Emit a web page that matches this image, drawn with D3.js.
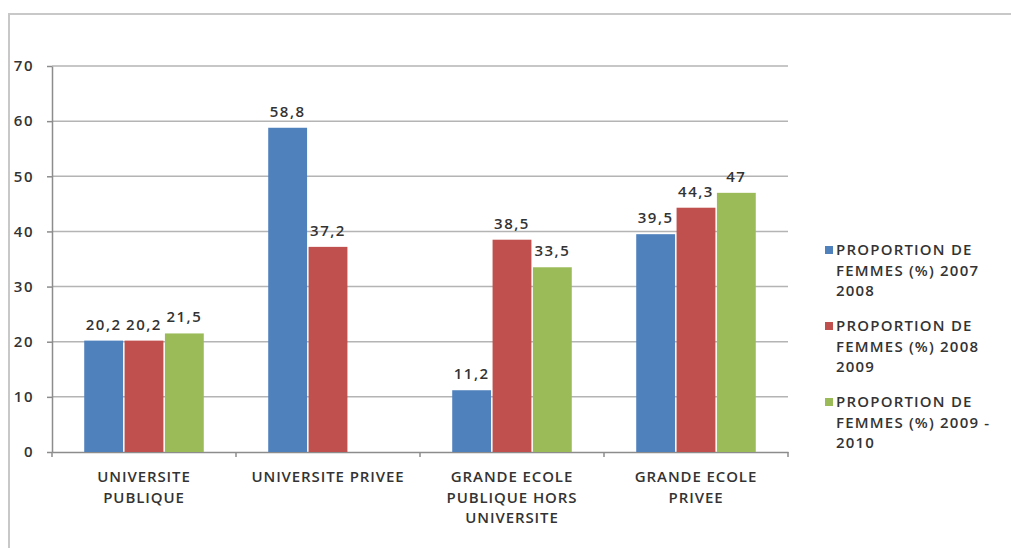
<!DOCTYPE html>
<html lang="fr">
<head>
<meta charset="UTF-8">
<title>Proportion de femmes</title>
<script src="https://d3js.org/d3.v7.min.js"></script>
<style>
  body { margin: 0; background: #fff; }
  svg text { font-family: "Open Sans", Calibri, sans-serif; fill: #333; font-weight: 600; }
  .grid line { stroke: #b4b4b4; stroke-width: 1.5; }
  .axis path, .axis line { stroke: #8c8c8c; stroke-width: 1.5; fill: none; }
</style>
</head>
<body>
<div id="chart"></div>
<script>
// data
var categories = ["UNIVERSITE PUBLIQUE", "UNIVERSITE PRIVEE", "GRANDE ECOLE PUBLIQUE HORS UNIVERSITE", "GRANDE ECOLE PRIVEE"];
var categoryLines = [["UNIVERSITE", "PUBLIQUE"], ["UNIVERSITE PRIVEE"], ["GRANDE ECOLE", "PUBLIQUE HORS", "UNIVERSITE"], ["GRANDE ECOLE", "PRIVEE"]];
var series = ["2007-2008", "2008-2009", "2009-2010"];
var seriesLabels = [
  ["PROPORTION DE", "FEMMES (%) 2007", "2008"],
  ["PROPORTION DE", "FEMMES (%) 2008", "2009"],
  ["PROPORTION DE", "FEMMES (%) 2009 -", "2010"]
];
var values2007 = [20.2, 58.8, 11.2, 39.5];
var values2008 = [20.2, 37.2, 38.5, 44.3];
var values2009 = [21.5, null, 33.5, 47];
var valueLabels = [
  ["20,2", "58,8", "11,2", "39,5"],
  ["20,2", "37,2", "38,5", "44,3"],
  ["21,5", "", "33,5", "47"]
];
var yTicks = [0, 10, 20, 30, 40, 50, 60, 70];
var colors = ["#4f81bd", "#c0504d", "#9bbb59"];

var allValues = [values2007, values2008, values2009];

var W = 1011, H = 548;
var margin = { top: 66, left: 52, right: 223, bottom: 96 };

var svg = d3.select("#chart").append("svg")
  .attr("width", W).attr("height", H);

// outer frame (top and left edges visible)
svg.append("path")
  .attr("d", "M8,14H" + W + "M9,14V" + H)
  .attr("stroke", "#c8c8c8").attr("stroke-width", 2).attr("fill", "none");

var x0 = d3.scaleBand().domain(categories).range([margin.left, W - margin.right]);
var x1 = d3.scaleBand().domain(series).range([0, x0.bandwidth()]).paddingOuter(0.78);
var y = d3.scaleLinear().domain([0, 70]).range([H - margin.bottom, margin.top]);

// gridlines
svg.append("g").attr("class", "grid")
  .selectAll("line").data(yTicks.slice(1)).enter().append("line")
  .attr("x1", margin.left).attr("x2", W - margin.right)
  .attr("y1", function (d) { return y(d); }).attr("y2", function (d) { return y(d); });

// y axis
var yAxis = svg.append("g").attr("class", "axis")
  .attr("transform", "translate(" + margin.left + ",0)")
  .call(d3.axisLeft(y).tickValues(yTicks).tickSize(5).tickSizeOuter(0));
yAxis.selectAll("text").attr("x", -18)
  .style("font-size", "15px").style("letter-spacing", "1.5px");

// x axis
var xAxis = svg.append("g").attr("class", "axis")
  .attr("transform", "translate(0," + y(0) + ")")
  .call(d3.axisBottom(x0).tickSize(0).tickSizeOuter(0).tickFormat(""));
xAxis.selectAll(".cat-tick").data(categories.concat(["end"])).enter().append("line")
  .attr("class", "cat-tick")
  .attr("x1", function (d, i) { return margin.left + i * x0.step(); })
  .attr("x2", function (d, i) { return margin.left + i * x0.step(); })
  .attr("y1", 0).attr("y2", 5);

// category labels
categories.forEach(function (c, i) {
  var cx = x0(c) + x0.bandwidth() / 2;
  var t = svg.append("text")
    .attr("x", cx)
    .attr("y", y(0) + 30)
    .attr("text-anchor", "middle")
    .style("font-size", "15px").style("letter-spacing", "0.9px");
  categoryLines[i].forEach(function (line, j) {
    t.append("tspan").attr("x", cx)
      .attr("dy", j === 0 ? 0 : 20.5).text(line);
  });
});

// bars
series.forEach(function (s, si) {
  var g = svg.append("g");
  categories.forEach(function (c, ci) {
    var v = allValues[si][ci];
    if (v === null) return;
    g.append("rect")
      .attr("x", x0(c) + x1(s) + 0.75)
      .attr("y", y(v))
      .attr("width", x1.bandwidth() - 1.5)
      .attr("height", y(0) - y(v))
      .attr("fill", colors[si]);
    svg.append("text")
      .attr("x", x0(c) + x1(s) + x1.bandwidth() / 2)
      .attr("y", y(v) - 11)
      .attr("text-anchor", "middle")
      .style("font-size", "15px").style("letter-spacing", "1.5px")
      .text(valueLabels[si][ci]);
  });
});

// legend
var legend = svg.append("g").attr("transform", "translate(825,0)");
seriesLabels.forEach(function (lines, i) {
  var top = 250 + i * 76;
  legend.append("rect")
    .attr("x", 0).attr("y", top - 4)
    .attr("width", 8).attr("height", 8)
    .attr("fill", colors[i]);
  var t = legend.append("text").attr("x", 11).attr("y", top + 5)
    .style("font-size", "15px").style("letter-spacing", "1.2px");
  lines.forEach(function (line, j) {
    t.append("tspan").attr("x", 11).attr("dy", j === 0 ? 0 : 20.5).text(line);
  });
});
</script>
</body>
</html>
